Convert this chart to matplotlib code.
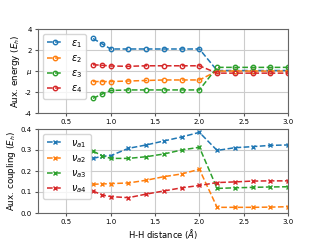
import matplotlib
matplotlib.use("Agg")
import matplotlib.pyplot as plt

# distances (Angstrom)
dist = [0.8, 0.9, 1.0, 1.2, 1.4, 1.6, 1.8, 2.0, 2.2, 2.4, 2.6, 2.8, 3.0]

# auxiliary energies (Eh), relative to mu
eps1 = [3.1, 2.6, 2.1, 2.1, 2.1, 2.1, 2.1, 2.1, 0.05, 0.05, 0.05, 0.05, 0.05]
eps2 = [-1.0, -1.0, -1.0, -0.95, -0.9, -0.85, -0.85, -0.85, 0.0, 0.0, 0.0, 0.0, 0.0]
eps3 = [-2.6, -2.2, -1.85, -1.8, -1.8, -1.8, -1.8, -1.8, 0.35, 0.35, 0.35, 0.35, 0.35]
eps4 = [0.6, 0.55, 0.48, 0.45, 0.5, 0.5, 0.5, 0.5, -0.2, -0.2, -0.2, -0.2, -0.2]

# auxiliary couplings (Eh)
nu1 = [0.26, 0.27, 0.273, 0.308, 0.324, 0.343, 0.362, 0.384, 0.298, 0.311, 0.316, 0.322, 0.324]
nu2 = [0.137, 0.138, 0.14, 0.143, 0.156, 0.173, 0.186, 0.208, 0.027, 0.027, 0.027, 0.028, 0.03]
nu3 = [0.295, 0.273, 0.26, 0.26, 0.268, 0.281, 0.3, 0.313, 0.117, 0.12, 0.122, 0.124, 0.125]
nu4 = [0.105, 0.086, 0.078, 0.073, 0.09, 0.105, 0.12, 0.131, 0.145, 0.148, 0.152, 0.153, 0.153]

energies = [eps1, eps2, eps3, eps4]
couplings = [nu1, nu2, nu3, nu4]
colors = ["#1f77b4", "#ff7f0e", "#2ca02c", "#d62728"]

plt.rcParams["font.size"] = 5
fig, (ax1, ax2) = plt.subplots(2, 1, figsize=(3.2, 2.4), dpi=100)
fig.subplots_adjust(left=0.119, right=0.9, top=0.879, bottom=0.1125, hspace=0.19)

for i, (e, c) in enumerate(zip(energies, colors)):
    ax1.plot(dist, e, "--o", color=c, mfc="none", ms=3.2, lw=1.1,
             label=r"$\varepsilon_%d$" % (i + 1))
for i, (n, c) in enumerate(zip(couplings, colors)):
    ax2.plot(dist, n, "--x", color=c, ms=3.2, lw=1.1,
             label=r"$\nu_{a%d}$" % (i + 1))

ax1.set_ylim(-4, 4)
ax1.set_yticks([-4, -2, 0, 2, 4])
ax1.set_yticklabels(["-4", "-2", r"$\mu$", "2", "4"])
ax1.set_ylabel(r"Aux. energy ($E_h$)", fontsize=6.3, labelpad=2)
ax2.set_ylim(0, 0.4)
ax2.set_yticks([0.0, 0.1, 0.2, 0.3, 0.4])
ax2.set_ylabel(r"Aux. coupling ($E_h$)", fontsize=6.3, labelpad=2)
ax2.set_xlabel(r"H-H distance ($\AA$)", fontsize=6, labelpad=1)

for ax in (ax1, ax2):
    ax.set_xlim(0.18, 3.0)
    ax.set_xticks([0.5, 1.0, 1.5, 2.0, 2.5, 3.0])
    ax.grid(True, color="#cccccc", lw=0.8)
    ax.tick_params(length=2.5, pad=2, color="#555555", labelsize=5)
    for s in ax.spines.values():
        s.set_color("#666666")
    ax.legend(loc="upper left", fontsize=7, handlelength=1.7,
              labelspacing=0.35, handletextpad=0.8, borderaxespad=0.5)

fig.savefig("out.png", dpi=100)
